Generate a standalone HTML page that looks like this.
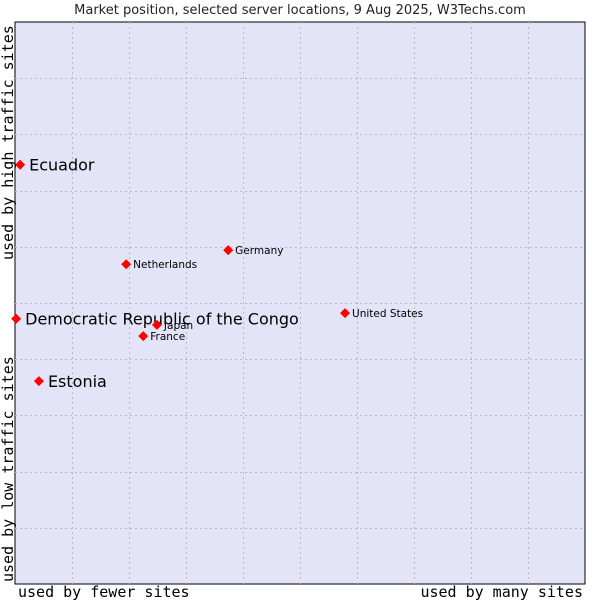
<!DOCTYPE html>
<html><head><meta charset="utf-8"><style>
body{margin:0;background:#fff;width:600px;height:600px;overflow:hidden}
svg text{font-family:"DejaVu Sans","Liberation Sans",sans-serif}
.mono{font-family:"DejaVu Sans Mono","Liberation Mono",monospace}
</style></head><body>
<svg id="chart" width="600" height="600" xmlns="http://www.w3.org/2000/svg">
<text x="300" y="14" text-anchor="middle" font-size="13" fill="#222">Market position, selected server locations, 9 Aug 2025, W3Techs.com</text>
<rect x="15" y="22" width="570" height="562" fill="#e4e4f8" stroke="#000" stroke-width="1"/>
<g id="grid"></g>
<g id="points"></g>
<text class="mono" x="18" y="597" font-size="15" fill="#000">used by fewer sites</text>
<text class="mono" x="583" y="597" font-size="15" text-anchor="end" fill="#000">used by many sites</text>
<text class="mono" transform="translate(13,582) rotate(-90)" font-size="15" fill="#000">used by low traffic sites</text>
<text class="mono" transform="translate(13,260) rotate(-90)" font-size="15" fill="#000">used by high traffic sites</text>
</svg>
<script>
const names=["Ecuador","Democratic Republic of the Congo","Estonia","Netherlands","Germany","Japan","France","United States"];
const xValues=[0.9,0.2,4.2,19.5,37.4,24.9,22.5,57.9];
const yValues=[74.6,47.2,36.1,56.9,59.4,46.1,44.1,48.2];
const highlighted=[true,true,true,false,false,false,false,false];
const X0=15,X1=585,Y0=584,Y1=22;
function sx(v){return X0+v/100*(X1-X0);}
function sy(v){return Y0-v/100*(Y0-Y1);}
const NS="http://www.w3.org/2000/svg";
const grid=document.getElementById('grid');
for(let i=1;i<10;i++){
  const gx=Math.round(X0+i*57)+0.5;
  const l=document.createElementNS(NS,'line');
  l.setAttribute('x1',gx);l.setAttribute('x2',gx);l.setAttribute('y1',Y1);l.setAttribute('y2',Y0);
  l.setAttribute('stroke','#bbb');l.setAttribute('stroke-dasharray','2,3');
  
  
  grid.appendChild(l);
  const gy=Math.round(Y0-i*56.2)+0.5;
  const h=document.createElementNS(NS,'line');
  h.setAttribute('x1',X0);h.setAttribute('x2',X1);h.setAttribute('y1',gy);h.setAttribute('y2',gy);
  h.setAttribute('stroke','#bbb');h.setAttribute('stroke-dasharray','2,3');
  
  
  grid.appendChild(h);
}
const pts=document.getElementById('points');
names.forEach((n,i)=>{
  const x=sx(xValues[i]),y=sy(yValues[i]);
  const d=document.createElementNS(NS,'path');
  d.setAttribute('d',`M${x-5},${y} L${x},${y-5} L${x+5},${y} L${x},${y+5} Z`);
  d.setAttribute('fill','#f00');
  
  
  pts.appendChild(d);
  const t=document.createElementNS(NS,'text');
  t.setAttribute('x',x+(highlighted[i]?9:7));
  t.setAttribute('y',y+(highlighted[i]?6:4));
  t.setAttribute('font-size',highlighted[i]?'16':'10.5');
  t.setAttribute('fill','#000');
  t.textContent=n;
  
  
  pts.appendChild(t);
});
</script>
</body></html>
